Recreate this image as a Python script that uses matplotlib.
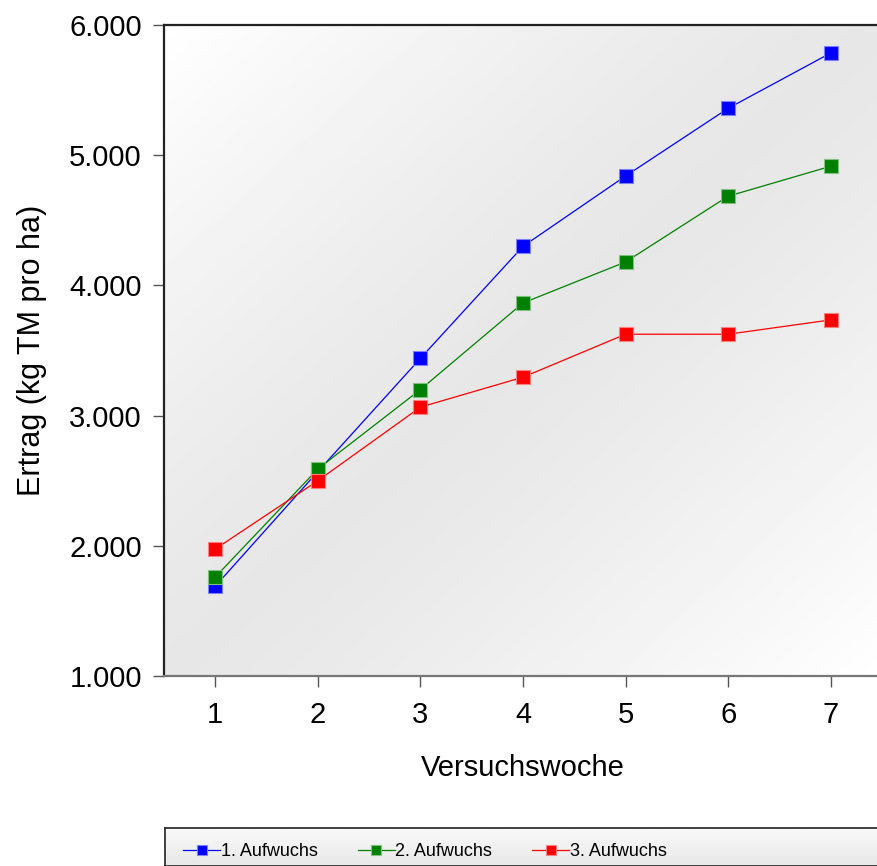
import numpy as np
import matplotlib as mpl
mpl.use('Agg')
import matplotlib.pyplot as plt
from matplotlib.ticker import FuncFormatter

plt.rcParams['font.family'] = ['Liberation Sans', 'DejaVu Sans']

wochen = [1, 2, 3, 4, 5, 6, 7]
aufwuchs_1 = [1690, 2570, 3440, 4300, 4840, 5360, 5785]
aufwuchs_2 = [1760, 2590, 3200, 3865, 4180, 4685, 4915]
aufwuchs_3 = [1975, 2500, 3065, 3295, 3625, 3625, 3735]
namen = ['1. Aufwuchs', '2. Aufwuchs', '3. Aufwuchs']
farben = ['#0000ff', '#008000', '#ff0000']
kanten = ['#8080ff', '#80c080', '#ff8080']

W, H = 877, 866
fig = plt.figure(figsize=(W / 100, H / 100), dpi=100)

# plot area, right edge runs slightly past the image
ax = fig.add_axes([164 / W, 1 - 676 / H, (882 - 164) / W, (676 - 25) / H])


def gradient(a):
    # diagonal gradient: white in top-left and bottom-right, gray in the middle
    u = np.linspace(0, 1, 300)
    v = np.linspace(0, 1, 300)
    U, V = np.meshgrid(u, v)
    t = (U + V) / 2
    g = 0.905 + 0.095 * np.abs(2 * t - 1) ** 1.3
    a.imshow(g, cmap='gray', vmin=0, vmax=1, extent=[0, 1, 0, 1],
             transform=a.transAxes, aspect='auto', zorder=0, origin='upper')


gradient(ax)

for werte, name, f, k in zip([aufwuchs_1, aufwuchs_2, aufwuchs_3], namen, farben, kanten):
    ax.plot(wochen, werte, color=f, lw=0.9, marker='s', markersize=9.5,
            markerfacecolor=f, markeredgecolor=k, markeredgewidth=0.8,
            label=name, zorder=3)

ax.set_xlim(0.5, 7.5)
ax.set_ylim(1000, 6000)
ax.set_xticks(wochen)
ax.set_yticks([1000, 2000, 3000, 4000, 5000, 6000])
ax.yaxis.set_major_formatter(FuncFormatter(lambda v, p: '{:,.0f}'.format(v).replace(',', '.')))
ax.tick_params(axis='both', labelsize=21, length=8, width=1, color='#555555', direction='out')
ax.tick_params(axis='y', pad=8)
ax.tick_params(axis='x', pad=10)

for s in ['left', 'top']:
    ax.spines[s].set_color('#222222')
    ax.spines[s].set_linewidth(1.6)
ax.spines['bottom'].set_color('#777777')
ax.spines['bottom'].set_linewidth(1.6)
ax.spines['right'].set_visible(False)

ax.set_xlabel('Versuchswoche', fontsize=21, labelpad=18)
ax.set_ylabel('Ertrag (kg TM pro ha)', fontsize=22, labelpad=16)

# legend box at the bottom, cut off by the image border
lax = fig.add_axes([165 / W, 0, (890 - 165) / W, (866 - 828) / H])
u = np.linspace(0, 1, 50)
lax.imshow(np.tile((0.975 - 0.065 * u)[:, None], (1, 10)), cmap='gray',
           vmin=0, vmax=1, extent=[0, 1, 0, 1], aspect='auto', origin='upper')
lax.set_xticks([])
lax.set_yticks([])
for s in lax.spines.values():
    s.set_color('#222222')
    s.set_linewidth(1.2)
h, l = ax.get_legend_handles_labels()
leg = lax.legend(h, l, loc='center left', bbox_to_anchor=(18 / 725, 0.38), ncol=3, frameon=False,
                 fontsize=13, handlelength=2.05, handletextpad=0.05, columnspacing=2.2,
                 borderaxespad=0.0, borderpad=0.0, markerscale=0.72)

plt.savefig('out.png', dpi=100)
